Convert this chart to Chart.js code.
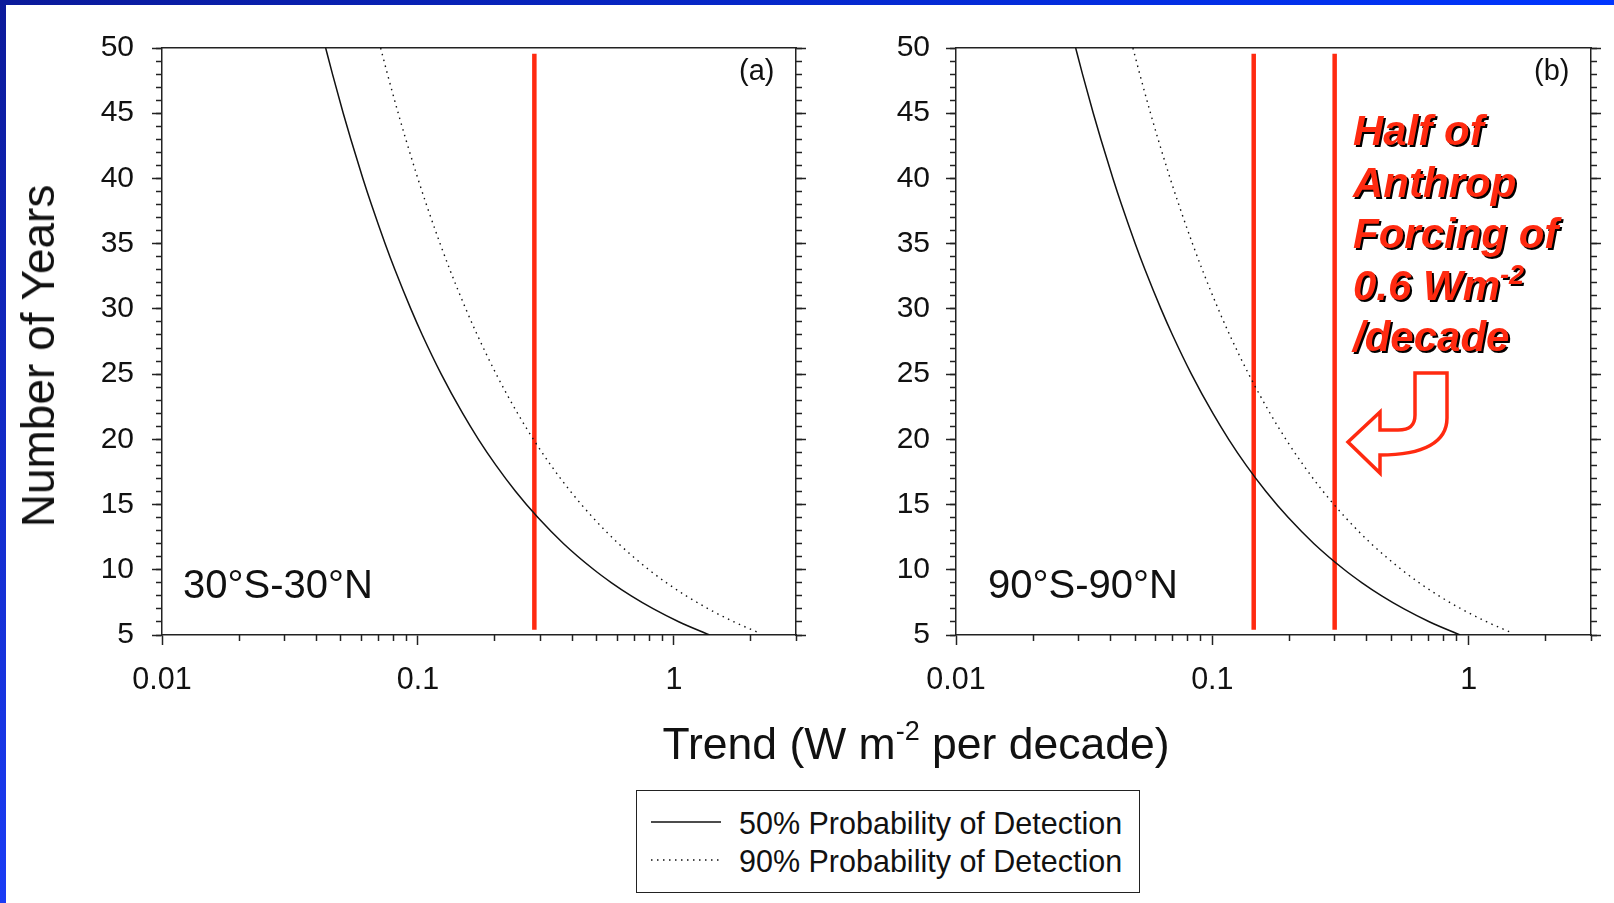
<!DOCTYPE html>
<html><head><meta charset="utf-8">
<script src="https://cdn.jsdelivr.net/npm/chart.js@4.4.0/dist/chart.umd.min.js"></script>
<style>
html,body{margin:0;padding:0;}
body{width:1614px;height:903px;position:relative;overflow:hidden;background:#fff;font-family:"Liberation Sans",Arial,sans-serif;color:#111;}
#topbar{position:absolute;left:0;top:0;width:1614px;height:5px;background:linear-gradient(to right,#0b1a9a,#0036ff);z-index:5;}
#leftbar{position:absolute;left:0;top:0;width:6px;height:903px;background:linear-gradient(to bottom,#0b1a9a,#1a3cf5);z-index:5;}
canvas{position:absolute;top:0;}
.t{position:absolute;white-space:nowrap;line-height:1;}
#legend{position:absolute;left:636px;top:790px;width:504px;height:103px;border:1.5px solid #222;box-sizing:border-box;}
.ann{position:absolute;left:1353px;top:105px;font-weight:bold;font-style:italic;font-size:42px;line-height:51.5px;color:#ff2a10;text-shadow:2px 2px 0 #000;white-space:nowrap;}
.sup{line-height:0;position:relative;}
</style></head><body>
<div id="topbar"></div><div id="leftbar"></div>
<canvas id="ca" width="812" height="720" style="left:0;width:812px;height:720px"></canvas>
<canvas id="cb" width="802" height="720" style="left:812px;width:802px;height:720px"></canvas>

<div class="t" style="left:38px;top:356px;font-size:46px;transform:translate(-50%,-50%) rotate(-90deg);">Number of Years</div>
<div class="t" style="left:916px;top:722px;font-size:44.5px;transform:translateX(-50%);">Trend (W m<span class="sup" style="font-size:27px;top:-19px;">-2</span> per decade)</div>
<div class="t" style="left:739px;top:56px;font-size:29px;">(a)</div>
<div class="t" style="left:1534px;top:56px;font-size:29px;">(b)</div>
<div class="t" style="left:183px;top:564px;font-size:40px;">30°S-30°N</div>
<div class="t" style="left:988px;top:564px;font-size:40px;">90°S-90°N</div>

<div class="ann">Half of<br>Anthrop<br>Forcing of<br>0.6 Wm<span class="sup" style="font-size:27px;top:-16px;">-2</span><br>/decade</div>

<div id="legend">
  <svg style="position:absolute;left:0;top:0" width="100" height="100">
    <line x1="14" y1="31" x2="84" y2="31" stroke="#111" stroke-width="1.5"/>
    <line x1="14" y1="69" x2="84" y2="69" stroke="#111" stroke-width="1.5" stroke-dasharray="1.5 4.5"/>
  </svg>
  <div class="t" style="left:102px;top:17px;font-size:30.5px;">50% Probability of Detection</div>
  <div class="t" style="left:102px;top:55px;font-size:30.5px;">90% Probability of Detection</div>
</div>

<svg style="position:absolute;left:0;top:0;pointer-events:none" width="1614" height="903">
  <path d="M1415 373 L1447 373 L1447 418 C1447 442 1424 455 1380 455 L1380 473 L1348 442 L1380 412 L1380 430 L1398 430 C1410 430 1415 425 1415 415 Z" fill="none" stroke="#ff2a10" stroke-width="3.5" stroke-linejoin="miter"/>
</svg>

<script>
// ---- data ----
const xTickValues = [0.01, 0.1, 1];
const xTickLabels = ['0.01', '0.1', '1'];
const xMinorTicks = [0.02,0.03,0.04,0.05,0.06,0.07,0.08,0.09,0.2,0.3,0.4,0.5,0.6,0.7,0.8,0.9,2,3];
const yTickValues = [5,10,15,20,25,30,35,40,45,50];

// Number of years (y) for each curve point
const yearsSolid = [50,48,45,43,40,38,35,33,30,28,25,22,20,18,16,14,12,10,9,8,7,6,5];
const yearsDotA  = [50,48,45,43,40,38,35,33,30,28,25,22,20,18,16,14,12,10,9,8,7,6,5.2];
const yearsDotB  = [50,48,45,43,40,38,35,33,30,28,25,22,20,18,16,14,12,10,9,8,7,6,5.2];

// Panel (a) 30S-30N : trend (W m-2 per decade)
const tropics50 = [0.0436,0.04636,0.05106,0.05467,0.06093,0.06581,0.07445,0.08131,0.09381,0.1040,0.1233,0.1494,0.1723,0.2019,0.2409,0.2943,0.3708,0.4875,0.5709,0.6813,0.8323,1.049,1.379];
const tropics90 = [0.0715,0.07602,0.08374,0.08965,0.09992,0.1079,0.1221,0.1333,0.1538,0.1706,0.2022,0.2450,0.2826,0.3310,0.3950,0.4826,0.6081,0.7994,0.9363,1.117,1.365,1.720,2.132];
// Panel (b) 90S-90N
const global50 = [0.0293,0.03115,0.03432,0.03674,0.04095,0.04422,0.05003,0.05464,0.06304,0.06992,0.08287,0.1004,0.1158,0.1356,0.1619,0.1978,0.2492,0.3276,0.3837,0.4578,0.5593,0.7048,0.9265];
const global90 = [0.049,0.05210,0.05739,0.06144,0.06848,0.07396,0.08367,0.09138,0.1054,0.1169,0.1386,0.1679,0.1937,0.2269,0.2707,0.3307,0.4167,0.5478,0.6416,0.7656,0.9354,1.179,1.461];

// Red marker lines (trend values)
const markA = [0.285];
const markB = [0.145, 0.3];
const markYears = [5.4, 49.55];

const xMin = 0.01, xMax = 3, yMin = 5, yMax = 50;

// ---- helpers ----
const FONT = '"Liberation Sans", Arial, sans-serif';
const AX = '#222';
function pts(xs, ys){ return xs.map((x,i)=>({x:x, y:ys[i]})); }
function curve(xs, ys, dotted){
  return {data: pts(xs, ys), showLine:true, pointRadius:0, borderColor:'#111',
    borderWidth: dotted ? 1.4 : 1.5, borderDash: dotted ? [1.5,4.5] : [],
    cubicInterpolationMode:'monotone', fill:false};
}
function marks(vals){
  return vals.map(v => ({data: markYears.map(y=>({x:v, y:y})), showLine:true, pointRadius:0,
    borderColor:'#ff2a10', borderWidth:4.5, borderCapStyle:'butt', fill:false}));
}
function scales(c){
  const tickGrid = len => ({drawOnChartArea:false, tickLength:len, tickWidth:1.5, tickColor:AX});
  return {
    x:{type:'logarithmic', position:'bottom', weight:1, min:xMin, max:xMax,
       afterBuildTicks:s=>{ s.ticks = xTickValues.map(v=>({value:v})); },
       afterFit:s=>{ s.height = c.bottomH; },
       ticks:{autoSkip:false, maxRotation:0, color:'#111', padding:c.xPad, font:{family:FONT, size:30.5},
              callback:(v)=>{ const i = xTickValues.indexOf(v); return i>=0 ? xTickLabels[i] : ''; }},
       grid:tickGrid(10), border:{display:true, color:AX, width:1.5}},
    xMinor:{type:'logarithmic', position:'bottom', weight:0, min:xMin, max:xMax,
       afterBuildTicks:s=>{ s.ticks = xMinorTicks.map(v=>({value:v})); },
       afterFit:s=>{ s.height = 0; },
       ticks:{display:false}, grid:tickGrid(6), border:{display:false}},
    xTop:{type:'logarithmic', position:'top', min:xMin, max:xMax,
       afterFit:s=>{ s.height = c.topH; },
       ticks:{display:false}, grid:{display:false}, border:{display:true, color:AX, width:1.5}},
    y:{type:'linear', position:'left', weight:1, min:yMin, max:yMax,
       afterBuildTicks:s=>{ s.ticks = yTickValues.map(v=>({value:v})); },
       afterFit:s=>{ s.width = c.leftW; },
       ticks:{autoSkip:false, color:'#111', padding:c.yPad, font:{family:FONT, size:30}},
       grid:tickGrid(10), border:{display:true, color:AX, width:1.5}},
    yMinor:{type:'linear', position:'left', weight:0, min:yMin, max:yMax,
       afterFit:s=>{ s.width = 0; },
       ticks:{display:false, stepSize:1}, grid:tickGrid(6), border:{display:false}},
    yR:{type:'linear', position:'right', weight:1, min:yMin, max:yMax,
       afterBuildTicks:s=>{ s.ticks = yTickValues.map(v=>({value:v})); },
       afterFit:s=>{ s.width = c.rightW; },
       ticks:{display:false}, grid:tickGrid(10), border:{display:true, color:AX, width:1.5}},
    yRMinor:{type:'linear', position:'right', weight:0, min:yMin, max:yMax,
       afterFit:s=>{ s.width = 0; },
       ticks:{display:false, stepSize:1}, grid:tickGrid(6), border:{display:false}}
  };
}
function make(id, datasets, c){
  return new Chart(document.getElementById(id), {
    type:'scatter',
    data:{datasets: datasets.map(d=>Object.assign({xAxisID:'x', yAxisID:'y'}, d))},
    options:{responsive:false, animation:false, devicePixelRatio:1,
      layout:{padding:0},
      plugins:{legend:{display:false}, tooltip:{enabled:false}},
      scales: scales(c)}
  });
}
make('ca', [curve(tropics50, yearsSolid, false), curve(tropics90, yearsDotA, true)].concat(marks(markA)),
     {leftW:162, rightW:16, topH:48, bottomH:85, yPad:18, xPad:17});
make('cb', [curve(global50, yearsSolid, false), curve(global90, yearsDotB, true)].concat(marks(markB)),
     {leftW:144, rightW:23, topH:48, bottomH:85, yPad:16, xPad:17});
</script>
</body></html>
